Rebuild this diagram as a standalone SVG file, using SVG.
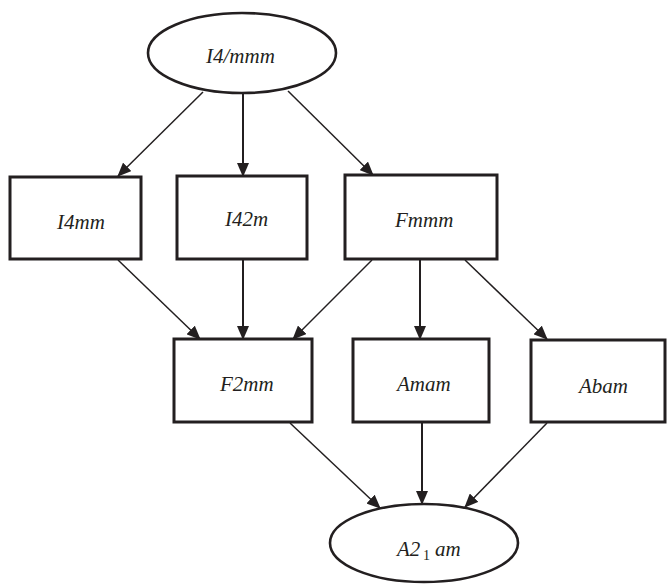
<svg xmlns="http://www.w3.org/2000/svg" width="667" height="584" viewBox="0 0 667 584">
<style>
.box{fill:#fff;stroke:#231f20;stroke-width:3}
.ell{fill:#fff;stroke:#231f20;stroke-width:2.6}
.lbl{font-family:"Liberation Serif","Times New Roman",serif;font-style:italic;font-size:21px;fill:#231f20}
.sub{font-size:14px}
.edge{stroke:#231f20;stroke-width:1.5;fill:none;marker-end:url(#ah)}
.v{stroke-width:2}
</style>
<defs>
<marker id="ah" markerUnits="userSpaceOnUse" markerWidth="14" markerHeight="12" viewBox="0 0 14 12" refX="13" refY="6" orient="auto">
<path d="M0,0 L14,6 L0,12 Z" fill="#231f20"/>
</marker>
</defs>
<rect width="667" height="584" fill="#fff"/>
<g id="connectors">
<line class="edge" x1="203" y1="92" x2="118" y2="176"/>
<line class="edge v" x1="243" y1="93" x2="243" y2="176"/>
<line class="edge" x1="288" y1="91" x2="373" y2="175"/>
<line class="edge" x1="118" y1="260" x2="200" y2="339"/>
<line class="edge v" x1="243" y1="260" x2="243" y2="339"/>
<line class="edge" x1="372" y1="260" x2="293" y2="339"/>
<line class="edge v" x1="420" y1="260" x2="420" y2="339"/>
<line class="edge" x1="465" y1="260" x2="547" y2="339"/>
<line class="edge" x1="290" y1="423" x2="380" y2="508"/>
<line class="edge v" x1="422" y1="423" x2="422" y2="504"/>
<line class="edge" x1="547" y1="423" x2="465" y2="507"/>
</g>
<g id="n-I4mmm">
<ellipse class="ell" cx="242" cy="53" rx="94" ry="40"/>
<text class="lbl" x="206" y="63">I4/mmm</text>
</g>
<g id="n-I4mm">
<rect class="box" x="10" y="177" width="131" height="82"/>
<text class="lbl" x="57" y="229">I4mm</text>
</g>
<g id="n-I42m">
<rect class="box" x="177" y="176" width="130" height="83"/>
<text class="lbl" x="225" y="226">I42m</text>
</g>
<g id="n-Fmmm">
<rect class="box" x="345" y="175" width="152" height="84"/>
<text class="lbl" x="395" y="227">Fmmm</text>
</g>
<g id="n-F2mm">
<rect class="box" x="174" y="339" width="138" height="83"/>
<text class="lbl" x="220" y="391">F2mm</text>
</g>
<g id="n-Amam">
<rect class="box" x="353" y="339" width="136" height="83"/>
<text class="lbl" x="397" y="391">Amam</text>
</g>
<g id="n-Abam">
<rect class="box" x="531" y="340" width="134" height="82"/>
<text class="lbl" x="579" y="393">Abam</text>
</g>
<g id="n-A21am">
<ellipse class="ell" cx="424" cy="543" rx="94" ry="39"/>
<text class="lbl" x="397" y="556">A2<tspan class="sub" x="423" y="560" font-style="normal">1</tspan><tspan x="435" y="556">am</tspan></text>
</g>
</svg>
